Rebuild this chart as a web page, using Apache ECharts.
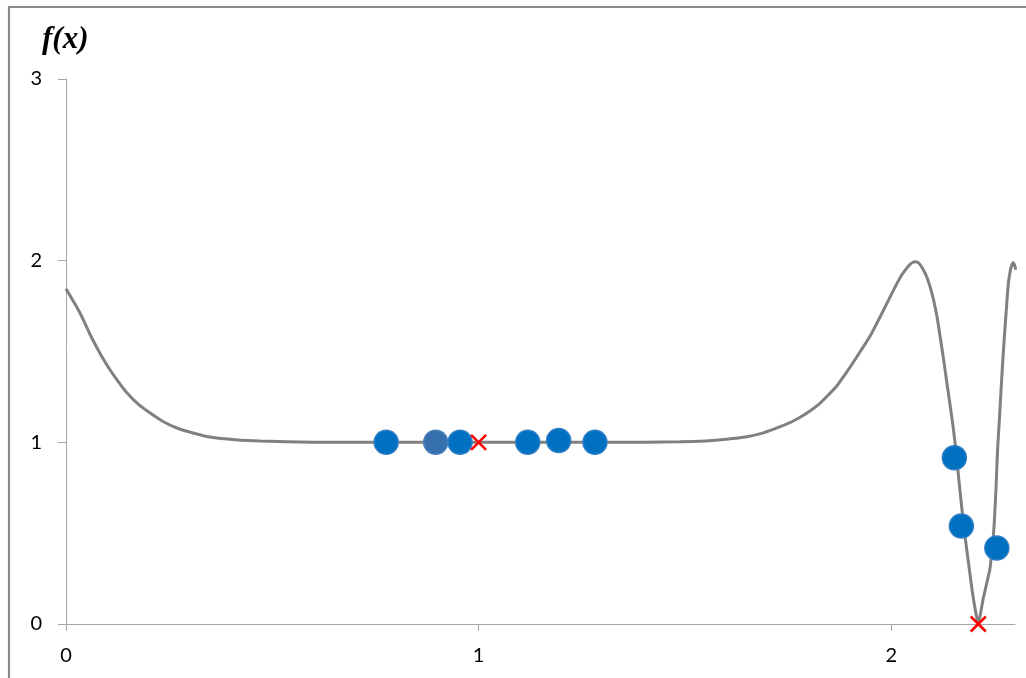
<!DOCTYPE html>
<html>
<head>
<meta charset="utf-8">
<script src="https://cdn.jsdelivr.net/npm/echarts@6/dist/echarts.min.js"></script>
<style>
html,body{margin:0;padding:0;background:#fff;}
#chart{width:1026px;height:678px;}
</style>
</head>
<body>
<div id="chart"></div>
<script>
// Curve f(x): [x, f(x)]
const curveX = [0, 0.017, 0.034, 0.05, 0.065, 0.085, 0.107, 0.128, 0.148, 0.175, 0.204, 0.235, 0.269, 0.31, 0.349, 0.41, 0.47, 0.6, 0.8, 1.0, 1.2, 1.4, 1.488, 1.55, 1.6, 1.65, 1.69, 1.731, 1.765, 1.796, 1.825, 1.852, 1.868, 1.884, 1.905, 1.925, 1.95, 1.973, 1.995, 2.014, 2.025, 2.034, 2.045, 2.052, 2.058, 2.065, 2.072, 2.08, 2.086, 2.095, 2.103, 2.111, 2.12, 2.128, 2.135, 2.143, 2.151, 2.158, 2.165, 2.171, 2.176, 2.183, 2.19, 2.196, 2.202, 2.207, 2.211, 2.215, 2.219, 2.223, 2.228, 2.234, 2.239, 2.244, 2.249, 2.254, 2.258, 2.262, 2.267, 2.272, 2.278, 2.284, 2.289, 2.293, 2.296, 2.299, 2.302];
const curveY = [1.845, 1.78, 1.712, 1.635, 1.563, 1.48, 1.398, 1.33, 1.271, 1.21, 1.161, 1.115, 1.079, 1.05, 1.029, 1.014, 1.007, 1.001, 1.0, 1.0, 1.0, 1.001, 1.003, 1.008, 1.017, 1.031, 1.052, 1.086, 1.12, 1.161, 1.21, 1.271, 1.31, 1.36, 1.43, 1.50, 1.59, 1.690, 1.79, 1.875, 1.92, 1.948, 1.978, 1.99, 1.994, 1.99, 1.972, 1.94, 1.911, 1.85, 1.78, 1.691, 1.56, 1.44, 1.325, 1.20, 1.068, 0.93, 0.77, 0.64, 0.536, 0.41, 0.29, 0.187, 0.10, 0.04, 0.008, 0.04, 0.09, 0.14, 0.19, 0.25, 0.30, 0.40, 0.53, 0.75, 0.97, 1.12, 1.32, 1.508, 1.70, 1.877, 1.95, 1.98, 1.99, 1.975, 1.95];

// Sample points (blue circles)
const sampleX = [0.776, 0.955, 1.119, 1.194, 1.282, 2.153, 2.170, 2.256];
const sampleY = [1.0, 1.0, 1.0, 1.01, 1.0, 0.915, 0.539, 0.418];
// Highlighted sample point (darker blue)
const highlightX = [0.896];
const highlightY = [1.0];
// Minima (red crosses)
const minimaX = [1.0, 2.211];
const minimaY = [1.0, 0.0];

// Axis ticks
const xTicks = [0, 1, 2];
const yTicks = [0, 1, 2, 3];

const zip = (a, b) => a.map((v, i) => [v, b[i]]);

const chart = echarts.init(document.getElementById('chart'), null, {renderer: 'canvas'});
const labelFont = {fontFamily: 'Lato', fontSize: 20, color: '#000'};
chart.setOption({
  animation: false,
  backgroundColor: '#fff',
  grid: {left: 66, right: 11, top: 79, bottom: 54, containLabel: false},
  graphic: [
    {type: 'rect', shape: {x: 9, y: 7, width: 1100, height: 800}, style: {fill: 'none', stroke: '#8a8a8a', lineWidth: 2.2}, z: -1},
    {type: 'text', left: 42, top: 24, style: {text: 'f(x)', font: 'italic bold 31px "Liberation Serif"', fill: '#000'}}
  ],
  xAxis: {
    type: 'value', min: 0, max: 2.3,
    splitLine: {show: false},
    axisLine: {lineStyle: {color: '#a6a6a6', width: 1}},
    axisTick: {show: true, length: 7, lineStyle: {color: '#a6a6a6'}, customValues: xTicks},
    axisLabel: Object.assign({margin: 22, customValues: xTicks}, labelFont)
  },
  yAxis: {
    type: 'value', min: 0, max: 3, interval: 1,
    splitLine: {show: false},
    axisLine: {show: true, lineStyle: {color: '#a6a6a6', width: 1}},
    axisTick: {show: true, length: 8, lineStyle: {color: '#a6a6a6'}, customValues: yTicks},
    axisLabel: Object.assign({margin: 24, customValues: yTicks}, labelFont)
  },
  series: [
    {
      type: 'line', data: zip(curveX, curveY), smooth: 0.25, showSymbol: false,
      lineStyle: {color: '#808080', width: 3}, z: 2, clip: false
    },
    {
      type: 'scatter', data: zip(highlightX, highlightY), symbol: 'circle', symbolSize: 24,
      itemStyle: {color: '#3670ae', borderColor: '#4a7fbb', borderWidth: 1.5, opacity: 1}, z: 3
    },
    {
      type: 'scatter', data: zip(sampleX, sampleY), symbol: 'circle', symbolSize: 24,
      itemStyle: {color: '#0070c0', borderColor: '#2e7ec6', borderWidth: 1.5, opacity: 1}, z: 4
    },
    {
      type: 'scatter', data: zip(minimaX, minimaY), symbol: 'path://M0,0L10,10M10,0L0,10', symbolSize: 15,
      itemStyle: {color: '#ff0000', borderColor: '#ff0000', borderWidth: 2.5, opacity: 1}, z: 5, clip: false
    }
  ]
});
</script>
</body>
</html>
